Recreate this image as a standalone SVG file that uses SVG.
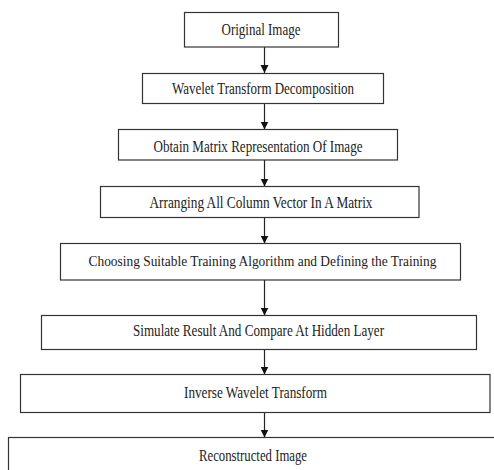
<svg xmlns="http://www.w3.org/2000/svg" width="494" height="470" viewBox="0 0 494 470">
<style>
.box{fill:#ffffff;stroke:#333333;stroke-width:1.2}
.lbl{font-family:"Liberation Serif","Times New Roman",serif;font-size:16px;fill:#222222;text-anchor:middle}
.sm{font-size:15px}
.conn{stroke:#222222;stroke-width:1.2;fill:none;marker-end:url(#arr)}
</style>
<defs>
<marker id="arr" viewBox="0 0 8 10" refX="8" refY="5" markerWidth="8" markerHeight="10" markerUnits="userSpaceOnUse" orient="auto">
<path d="M0,1 L8,5 L0,9 Z" fill="#111111"/>
</marker>
</defs>
<rect width="494" height="470" fill="#ffffff"/>
<g id="connectors">
<line class="conn" x1="264.5" y1="47" x2="264.5" y2="73"/>
<line class="conn" x1="264.5" y1="103.5" x2="264.5" y2="129.5"/>
<line class="conn" x1="264.5" y1="160" x2="264.5" y2="186.5"/>
<line class="conn" x1="264.5" y1="217.5" x2="264.5" y2="243.5"/>
<line class="conn" x1="264.5" y1="280" x2="264.5" y2="315.5"/>
<line class="conn" x1="264.5" y1="349.5" x2="264.5" y2="374.5"/>
<line class="conn" x1="264.5" y1="412.5" x2="264.5" y2="437.5"/>
</g>
<g id="n1"><rect class="box" x="184.5" y="12.5" width="154" height="34.5"/><text class="lbl" x="261" y="34.5" textLength="79" lengthAdjust="spacingAndGlyphs">Original Image</text></g>
<g id="n2"><rect class="box" x="142.5" y="73.5" width="241" height="30"/><text class="lbl" x="263" y="93.5" textLength="182" lengthAdjust="spacingAndGlyphs">Wavelet Transform Decomposition</text></g>
<g id="n3"><rect class="box" x="118.5" y="129.5" width="279" height="30.5"/><text class="lbl" x="258" y="151.5" textLength="209" lengthAdjust="spacingAndGlyphs">Obtain Matrix Representation Of Image</text></g>
<g id="n4"><rect class="box" x="100.5" y="186.5" width="318.5" height="31"/><text class="lbl" x="261" y="208" textLength="223" lengthAdjust="spacingAndGlyphs">Arranging All Column Vector In A Matrix</text></g>
<g id="n5"><rect class="box" x="60.5" y="243.5" width="400" height="36.5"/><text class="lbl sm" x="262.5" y="265.5" textLength="348" lengthAdjust="spacingAndGlyphs">Choosing Suitable Training Algorithm and Defining the Training</text></g>
<g id="n6"><rect class="box" x="41.5" y="315.5" width="435" height="34"/><text class="lbl" x="258.5" y="335.5" textLength="251" lengthAdjust="spacingAndGlyphs">Simulate Result And Compare At Hidden Layer</text></g>
<g id="n7"><rect class="box" x="20.5" y="374.5" width="469.5" height="38"/><text class="lbl" x="255.5" y="397.5" textLength="143" lengthAdjust="spacingAndGlyphs">Inverse Wavelet Transform</text></g>
<g id="n8"><rect class="box" x="8.5" y="437.5" width="500" height="50"/><text class="lbl" x="253" y="460.5" textLength="108" lengthAdjust="spacingAndGlyphs">Reconstructed Image</text></g>
</svg>
